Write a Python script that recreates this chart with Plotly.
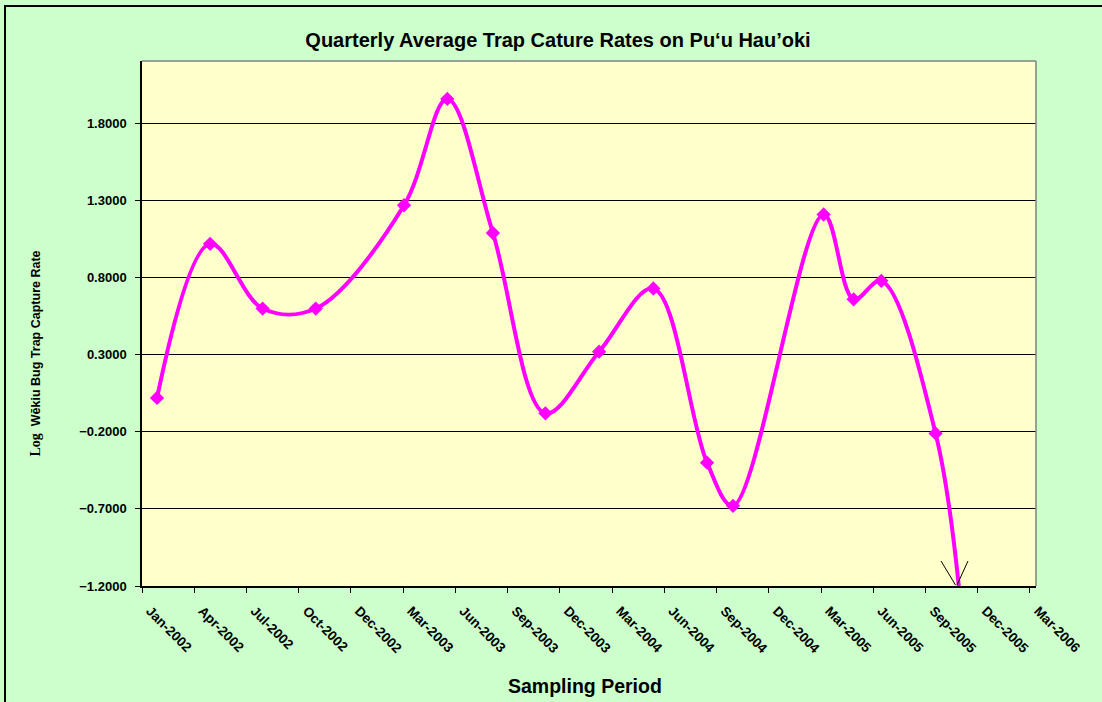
import plotly.graph_objects as go
import pandas as pd

# ---- data ----
sample_dates = ["2002-01-27", "2002-04-29", "2002-07-29", "2002-10-29", "2003-03-31",
                "2003-06-14", "2003-09-01", "2003-12-01", "2004-03-03", "2004-06-05",
                "2004-09-06", "2004-10-21", "2005-03-27", "2005-05-18", "2005-07-05",
                "2005-10-07", "2005-11-19"]
log_capture = [0.02, 1.02, 0.60, 0.60, 1.27, 1.96, 1.09, -0.08, 0.32, 0.73,
               -0.40, -0.68, 1.21, 0.66, 0.78, -0.21, -1.30]

tick_labels = ["Jan-2002", "Apr-2002", "Jul-2002", "Oct-2002", "Dec-2002", "Mar-2003",
               "Jun-2003", "Sep-2003", "Dec-2003", "Mar-2004", "Jun-2004", "Sep-2004",
               "Dec-2004", "Mar-2005", "Jun-2005", "Sep-2005", "Dec-2005", "Mar-2006"]
axis_start = "2002-01-01"
tick_step_days = 90.5
axis_span_days = 1549

start = pd.Timestamp(axis_start)
tick_vals = [start + pd.Timedelta(days=k * tick_step_days) for k in range(len(tick_labels))]
x_end = start + pd.Timedelta(days=axis_span_days)

fig = go.Figure()
fig.add_trace(go.Scatter(
    x=pd.to_datetime(sample_dates), y=log_capture,
    mode="lines+markers",
    line=dict(color="#FF00FF", width=4, shape="spline", smoothing=1.0),
    marker=dict(symbol="diamond", size=11, color="#FF00FF"),
    cliponaxis=True,
    showlegend=False,
))

# plot area geometry (pixels)
L, R, T, B = 142, 1102 - 1036, 61, 702 - 586
W = 1102 - L - R
H = 702 - T - B

def px(xp):
    return (xp - L) / W

def py(yp):
    return (702 - B - yp) / H

# arrow head "V" at the end of the line
fig.add_shape(type="line", xref="paper", yref="paper",
              x0=px(941), y0=py(561), x1=px(955.5), y1=py(585),
              line=dict(color="black", width=1))
fig.add_shape(type="line", xref="paper", yref="paper",
              x0=px(968), y0=py(561), x1=px(957), y1=py(585),
              line=dict(color="black", width=1))

# plot-area frame (grey top/right)
fig.add_shape(type="line", xref="paper", yref="paper", x0=0, y0=1, x1=1, y1=1,
              line=dict(color="#808080", width=1.5), layer="above")
fig.add_shape(type="line", xref="paper", yref="paper", x0=1, y0=0, x1=1, y1=1,
              line=dict(color="#808080", width=1.5), layer="above")

# chart-area border (top + left visible)
fig.add_shape(type="rect", xref="paper", yref="paper",
              x0=px(5), y0=py(1200), x1=px(1300), y1=py(6),
              line=dict(color="black", width=2), fillcolor="rgba(0,0,0,0)", layer="above")

# y-axis title with mixed fonts
fig.add_annotation(
    xref="paper", yref="paper", x=px(34.5), y=py(354), xanchor="center", yanchor="middle",
    textangle=-90, showarrow=False,
    text="<b><span style='font-family:Liberation Serif;font-size:14px'>Log</span>  W\u0113kiu Bug Trap Capture Rate</b>",
    font=dict(family="Arial, Liberation Sans", size=12.5, color="black"),
)

# x-axis title
fig.add_annotation(
    xref="paper", yref="paper", x=px(585), y=py(686), xanchor="center", yanchor="middle",
    showarrow=False, text="<b>Sampling Period</b>",
    font=dict(family="Arial, Liberation Sans", size=19.5, color="black"),
)

fig.update_layout(
    width=1102, height=702,
    margin=dict(l=L, r=R, t=T, b=B),
    paper_bgcolor="#CCFFCC",
    plot_bgcolor="#FFFFCC",
    font=dict(family="Arial, Liberation Sans", color="black"),
    title=dict(
        text="<b>Quarterly Average Trap Cature Rates on Pu\u2018u Hau\u2019oki</b>",
        x=558 / 1102, xref="container", xanchor="center",
        y=1 - 40 / 702, yref="container", yanchor="middle",
        font=dict(size=20, family="Arial, Liberation Sans", color="black"),
    ),
    xaxis=dict(
        type="date",
        range=[start, x_end],
        tickvals=tick_vals,
        ticktext=["<b>\u00a0\u00a0\u00a0%s</b>" % t for t in tick_labels],
        tickangle=45,
        tickfont=dict(size=13.5, family="Arial, Liberation Sans", color="black"),
        ticks="outside", ticklen=5, tickcolor="black",
        ticklabelstandoff=-3,
        showline=True, linecolor="black", linewidth=1.5,
        showgrid=False, zeroline=False,
    ),
    yaxis=dict(
        range=[-1.2, 2.206],
        tick0=-1.2, dtick=0.5, tickformat=".4f",
        tickprefix="<b>", ticksuffix="</b>",
        tickfont=dict(size=13, family="Arial, Liberation Sans", color="black"),
        ticks="outside", ticklen=5, tickcolor="black",
        ticklabelstandoff=6,
        showline=True, linecolor="black", linewidth=1.5,
        showgrid=True, gridcolor="black", gridwidth=1,
        zeroline=False,
    ),
)

fig.write_html("out.html", post_script="document.body.style.margin='0';",
               config={"displayModeBar": False})
